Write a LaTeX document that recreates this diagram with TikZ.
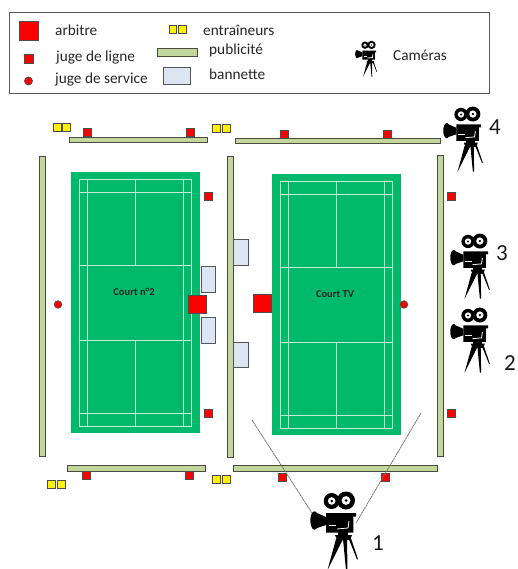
\documentclass[tikz,border=0pt]{standalone}
\usepackage{fontspec}
\setmainfont{Carlito}
\definecolor{courtg}{HTML}{00B96B}
\definecolor{courtl}{HTML}{BFEBD5}
\definecolor{adg}{HTML}{C3D69B}
\definecolor{adb}{HTML}{4A4A40}
\definecolor{banf}{HTML}{DCE6F2}
\definecolor{banb}{HTML}{555555}
\definecolor{inkt}{HTML}{262626}
\tikzset{
  pub/.style={draw=adb,fill=adg,line width=1pt},
  bann/.style={draw=banb,fill=banf,line width=1pt},
  juge/.style={draw=black!70,fill=red,line width=.7pt},
  coach/.style={draw=black!70,fill=yellow,line width=.8pt},
  lbl/.style={anchor=west,inner sep=0pt,font=\fontsize{15.3}{17}\selectfont,text=inkt},
  num/.style={inner sep=0pt,font=\fontsize{23}{25}\selectfont,text=black!90},
  ctitle/.style={inner sep=0pt,font=\fontsize{10.5}{12}\selectfont\bfseries,text=black!85},
  cline/.style={draw=courtl,line width=.8pt},
  sightline/.style={draw=black!55,line width=.8pt,dash pattern=on 2pt off .6pt},
  camera/.pic={
    \fill[black] (21.7,9) circle (8) (36,8.5) circle (9);
    \fill[white] (21.7,9) circle (3.8) (36,8.5) circle (4.4);
    \fill[black] (21.7,9) circle (1.3) (36,8.5) circle (1.5);
    \fill[black] (4.5,28.5) ellipse (4.2 and 9.2);
    \fill[black] (7,21) -- (16,25) -- (16,33) -- (7,36) -- cycle;
    \fill[black] (16,21) -- (46,21) -- (46,24.5) -- (43.3,24.5) -- (43.3,40.7) -- (16,40.7) -- cycle;
    \fill[white] (18.5,32.5) rectangle (26,33.6);
    \draw[white,line width=.8pt] (27,37) -- (38,36) -- (39,29);
    \fill[black] (25,43) -- (42,43) -- (40,48) -- (27,48) -- cycle;
    \fill[black] (28,40) rectangle (38,44);
    \fill[black] (26,47) -- (33,47) -- (17.5,78) -- cycle;
    \fill[black] (33,47) -- (37,47) -- (37.5,78) -- (36,78) -- cycle;
    \fill[black] (38,45) -- (40.5,45) -- (48,67) -- (47,67.5) -- cycle;
  }
}
\newcommand{\courtdraw}[3]{% x, y, label
  \begin{scope}[shift={(#1,#2)}]
    \fill[courtg] (71,172) rectangle (200,433);
    \draw[cline] (79,179) rectangle (191,426);
    \draw[cline] (87,179) -- (87,426) (183,179) -- (183,426);
    \draw[cline] (79,192) -- (191,192) (79,413) -- (191,413);
    \draw[cline] (79,265) -- (191,265) (79,340) -- (191,340);
    \draw[cline] (135,179) -- (135,265) (135,340) -- (135,426);
    \node[ctitle] at (134,292) {#3};
  \end{scope}
}
\begin{document}
\begin{tikzpicture}[x=1pt,y=-1pt]
\useasboundingbox (0,0) rectangle (517,569);
% legend
\node[draw=black!65,line width=1pt,minimum width=480pt,minimum height=81pt,inner sep=0pt,anchor=north west] (legend) at (8.5,12.5) {};
\node[juge,minimum size=19pt,inner sep=0pt] (la) at (28.5,31) {};
\node[lbl] (lat) at (55,30.5) {arbitre};
\node[juge,minimum size=9pt,inner sep=0pt] (lj) at (28.5,59) {};
\node[lbl] (ljt) at (56,57.5) {juge de ligne};
\node[juge,circle,minimum size=8pt,inner sep=0pt] (ls) at (28.5,81) {};
\node[lbl] (lst) at (55,80) {juge de service};
\node[coach,minimum size=7.5pt,inner sep=0pt] (lc1) at (173,29.5) {};
\node[coach,minimum size=7.5pt,inner sep=0pt] (lc2) at (182.5,29.5) {};
\node[lbl] (lct) at (203,30) {entraîneurs};
\node[pub,minimum width=40pt,minimum height=8pt,inner sep=0pt] (lp) at (177,52.5) {};
\node[lbl] (lpt) at (209,50.5) {publicité};
\node[bann,minimum width=27pt,minimum height=17pt,inner sep=0pt] (lb) at (177,76.5) {};
\node[lbl] (lbt) at (209,74.5) {bannette};
\pic[scale=.46] at (355,41) {camera};
\node[lbl] (lcam) at (393,55) {Caméras};
% courts
\courtdraw{0}{0}{Court n°2}
\courtdraw{201}{2}{Court TV}
% advertising
\path[pub] (39.5,156.5) rectangle (45,456);
\path[pub] (227,156.5) rectangle (233,457);
\path[pub] (437,155.5) rectangle (443,456);
\path[pub] (69.5,137.5) rectangle (207.5,143);
\path[pub] (235.5,139) rectangle (440.5,144);
\path[pub] (67.5,465.5) rectangle (205.5,471.5);
\path[pub] (233.5,465.5) rectangle (437.5,471.5);
% bannettes
\path[bann] (201,266) rectangle (215,292);
\path[bann] (201,317) rectangle (215,343);
\path[bann] (233.5,239) rectangle (248,265);
\path[bann] (233.5,342) rectangle (248,367);
% umpires
\node[juge,minimum size=18pt,inner sep=0pt] (a1) at (197,304.5) {};
\node[juge,minimum size=18pt,inner sep=0pt] (a2) at (262.5,303.5) {};
% line judges
\foreach \n/\x/\y in {j1/87/132.5,j2/190.5/132.5,j3/284.5/134,j4/387.5/134,j5/208.5/196.5,j6/208.5/413,j7/451/196,j8/451/413,j9/86/475.5,j10/189.5/475.5,j11/282/477,j12/385.5/477}
  \node[juge,minimum size=8pt,inner sep=0pt] (\n) at (\x,\y) {};
% service judges
\node[juge,circle,minimum size=7.5pt,inner sep=0pt] (s1) at (58,304.5) {};
\node[juge,circle,minimum size=7.5pt,inner sep=0pt] (s2) at (404,304.5) {};
% coaches
\foreach \n/\x/\y in {c1/57/127,c2/66.5/127,c3/216.5/128.5,c4/226/128.5,c5/216.5/479,c6/226/479,c7/51.5/484,c8/61.5/484}
  \node[coach,minimum size=8pt,inner sep=0pt] (\n) at (\x,\y) {};
% sight lines
\coordinate (v1) at (252,420);
\coordinate (v2) at (421,413);
\coordinate (c1a) at (312,513);
\coordinate (c1b) at (356,523);
\draw[sightline] (v1) -- (c1a);
\draw[sightline] (v2) -- (c1b);
% cameras
\pic at (310,492) {camera};
\pic[scale=.83] at (443,107) {camera};
\pic[scale=.83] at (450,234) {camera};
\pic[scale=.83] at (450,308) {camera};
\node[num] (n1) at (378,543) {1};
\node[num] (n2) at (510,363) {2};
\node[num] (n3) at (502,253) {3};
\node[num] (n4) at (495,127) {4};
\end{tikzpicture}
\end{document}
